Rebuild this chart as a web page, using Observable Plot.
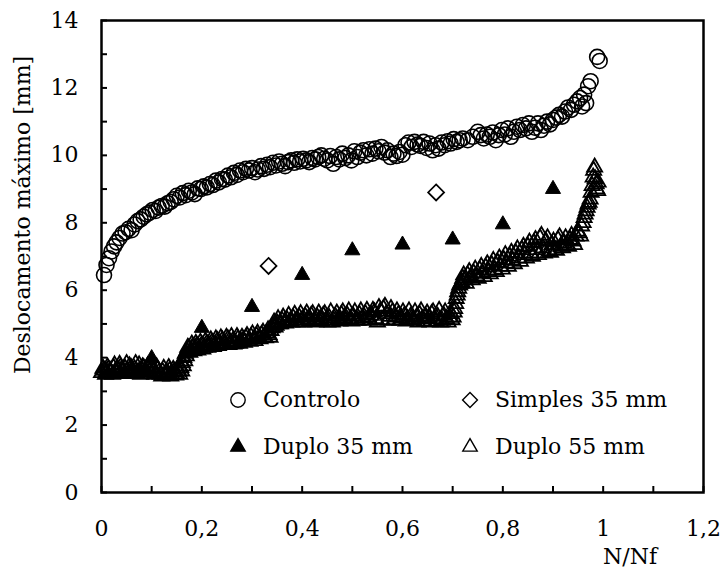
<!DOCTYPE html>
<html><head><meta charset="utf-8">
<script src="https://cdn.jsdelivr.net/npm/d3@7"></script>
<script src="https://cdn.jsdelivr.net/npm/@observablehq/plot@0.6"></script>
<style>
body{margin:0;background:#fff;}
#wrap{position:relative;width:722px;height:570px;font-family:"DejaVu Serif",serif;}
.leg{position:absolute;font-size:22px;color:#000;white-space:nowrap;line-height:22px;}
.leg svg{position:absolute;overflow:visible;}
</style></head><body><div id="wrap"></div>
<script>
const seriesNames = ["Controlo", "Simples 35 mm", "Duplo 35 mm", "Duplo 55 mm"];
const xTicks = [0, 0.1, 0.2, 0.3, 0.4, 0.5, 0.6, 0.7, 0.8, 0.9, 1.0, 1.1, 1.2];
const xLabels = [0, 0.2, 0.4, 0.6, 0.8, 1.0, 1.2];
const yTicks = [0, 1, 2, 3, 4, 5, 6, 7, 8, 9, 10, 11, 12, 13, 14];
const yLabels = [0, 2, 4, 6, 8, 10, 12, 14];
const xTitle = "N/Nf";
const yTitle = "Deslocamento máximo [mm]";

// [N/Nf, deslocamento]
const controlo = [
[0.005,6.45],[0.010,6.75],[0.015,6.95],[0.020,7.15],[0.025,7.30],[0.030,7.42],[0.036,7.55],[0.042,7.68],
[0.048,7.72],[0.054,7.82],[0.060,7.78],[0.066,7.95],[0.072,8.05],[0.078,8.10],[0.084,8.18],[0.090,8.25],
[0.096,8.30],[0.102,8.38],[0.108,8.35],[0.114,8.45],[0.120,8.50],[0.126,8.48],[0.132,8.58],[0.138,8.62],
[0.144,8.70],[0.150,8.80],[0.156,8.75],[0.162,8.88],[0.168,8.82],[0.174,8.95],[0.180,8.90],[0.186,8.85],
[0.192,9.02],[0.198,9.00],[0.204,9.08],[0.210,9.05],[0.216,9.15],[0.222,9.12],[0.228,9.25],[0.234,9.20],
[0.240,9.30],[0.246,9.28],[0.252,9.40],[0.258,9.35],[0.264,9.48],[0.270,9.42],[0.276,9.55],[0.282,9.50],
[0.288,9.60],[0.294,9.55],[0.300,9.62],[0.306,9.50],[0.312,9.58],[0.318,9.68],[0.324,9.60],[0.330,9.72],
[0.336,9.65],[0.342,9.78],[0.348,9.70],[0.354,9.82],[0.360,9.75],[0.366,9.68],[0.372,9.80],[0.378,9.85],
[0.384,9.78],[0.390,9.88],[0.396,9.82],[0.402,9.90],[0.408,9.85],[0.414,9.80],[0.420,9.92],[0.426,9.88],
[0.432,9.95],[0.438,10.00],[0.444,9.90],[0.450,9.85],[0.456,9.98],[0.462,9.75],[0.468,9.95],[0.474,9.88],
[0.480,10.05],[0.486,9.92],[0.492,10.00],[0.498,9.85],[0.504,10.12],[0.510,9.95],[0.516,10.08],[0.522,10.15],
[0.528,10.00],[0.534,10.18],[0.540,10.05],[0.546,10.20],[0.552,10.12],[0.558,10.25],[0.564,10.08],[0.570,10.15],
[0.576,9.95],[0.582,10.05],[0.588,9.98],[0.594,10.10],[0.600,10.02],[0.606,10.30],[0.612,10.38],[0.618,10.25],
[0.624,10.40],[0.630,10.32],[0.636,10.28],[0.642,10.40],[0.648,10.22],[0.654,10.35],[0.660,10.15],[0.666,10.30],
[0.672,10.20],[0.678,10.38],[0.684,10.30],[0.690,10.42],[0.696,10.35],[0.702,10.48],[0.708,10.40],[0.714,10.45],
[0.720,10.50],[0.730,10.45],[0.740,10.55],[0.750,10.70],[0.756,10.60],[0.762,10.50],[0.768,10.62],[0.774,10.55],
[0.780,10.68],[0.786,10.45],[0.792,10.60],[0.798,10.75],[0.804,10.62],[0.810,10.80],[0.816,10.55],[0.822,10.70],
[0.828,10.85],[0.834,10.75],[0.840,10.90],[0.846,10.80],[0.852,10.95],[0.858,10.70],[0.864,10.82],[0.870,10.95],
[0.876,10.75],[0.882,10.88],[0.888,11.00],[0.894,10.92],[0.900,11.05],[0.906,11.12],[0.912,11.20],[0.918,11.15],
[0.924,11.30],[0.930,11.42],[0.936,11.35],[0.942,11.50],[0.948,11.60],[0.954,11.70],[0.958,11.45],[0.962,11.80],
[0.966,11.55],[0.970,12.05],[0.975,12.20],[0.988,12.92],[0.993,12.80]
];
const simples35 = [[0.333,6.72],[0.667,8.90]];
const duplo35 = [[0.1,3.98],[0.2,4.88],[0.3,5.50],[0.4,6.45],[0.5,7.18],[0.6,7.35],[0.7,7.50],[0.8,7.95],[0.9,9.00]];
const duplo55 = [
[0.000,3.55],[0.005,3.62],[0.010,3.58],[0.014,3.66],[0.019,3.55],[0.024,3.70],[0.028,3.60],[0.033,3.64],
[0.038,3.72],[0.042,3.58],[0.047,3.68],[0.052,3.62],[0.056,3.75],[0.061,3.60],[0.066,3.66],[0.070,3.55],
[0.075,3.78],[0.080,3.62],[0.084,3.70],[0.089,3.58],[0.094,3.66],[0.098,3.52],[0.103,3.60],[0.108,3.55],
[0.112,3.65],[0.117,3.50],[0.122,3.58],[0.126,3.48],[0.131,3.55],[0.136,3.62],[0.140,3.50],[0.145,3.58],
[0.150,3.52],[0.154,3.60],[0.158,3.70],[0.161,3.85],[0.164,4.00],[0.167,4.12],[0.170,4.20],[0.174,4.28],
[0.178,4.22],[0.182,4.32],[0.186,4.25],[0.190,4.35],[0.195,4.28],[0.200,4.38],[0.205,4.30],[0.210,4.42],
[0.215,4.35],[0.220,4.45],[0.226,4.38],[0.231,4.50],[0.236,4.42],[0.241,4.52],[0.246,4.40],[0.252,4.55],
[0.257,4.45],[0.262,4.50],[0.267,4.42],[0.272,4.55],[0.278,4.48],[0.283,4.52],[0.288,4.58],[0.293,4.50],
[0.298,4.62],[0.304,4.55],[0.309,4.65],[0.314,4.58],[0.319,4.68],[0.324,4.62],[0.329,4.72],[0.334,4.68],
[0.338,4.80],[0.342,4.95],[0.346,4.90],[0.350,5.02],[0.355,5.00],[0.360,5.10],[0.365,5.05],[0.370,5.12],
[0.376,5.08],[0.382,5.18],[0.388,5.10],[0.394,5.20],[0.400,5.12],[0.406,5.22],[0.412,5.15],[0.418,5.25],
[0.424,5.10],[0.430,5.20],[0.436,5.15],[0.442,5.25],[0.448,5.12],[0.454,5.18],[0.460,5.05],[0.466,5.22],
[0.472,5.15],[0.478,5.28],[0.484,5.18],[0.490,5.25],[0.496,5.15],[0.502,5.22],[0.508,5.12],[0.514,5.28],
[0.520,5.18],[0.526,5.30],[0.532,5.20],[0.538,5.25],[0.544,5.35],[0.550,5.05],[0.556,5.38],[0.562,5.45],
[0.568,5.30],[0.574,5.22],[0.580,5.35],[0.586,5.20],[0.592,5.28],[0.598,5.18],[0.604,5.25],[0.610,5.15],
[0.616,5.22],[0.622,5.12],[0.628,5.20],[0.634,5.28],[0.640,5.15],[0.646,5.22],[0.652,5.18],[0.658,5.30],
[0.664,5.15],[0.670,5.22],[0.676,5.05],[0.682,5.25],[0.688,5.15],[0.694,5.20],[0.699,5.12],[0.703,5.35],
[0.706,5.60],[0.709,5.85],[0.712,6.05],[0.716,6.20],[0.720,6.35],[0.725,6.30],[0.730,6.45],[0.736,6.38],
[0.742,6.50],[0.748,6.42],[0.754,6.60],[0.760,6.50],[0.766,6.68],[0.772,6.55],[0.778,6.75],[0.784,6.60],
[0.790,6.82],[0.796,6.70],[0.802,6.90],[0.808,6.80],[0.814,7.00],[0.820,6.88],[0.826,7.10],[0.832,6.95],
[0.838,7.20],[0.844,7.05],[0.850,7.30],[0.856,7.10],[0.862,7.40],[0.868,7.20],[0.874,7.55],[0.880,7.25],
[0.886,7.45],[0.892,7.15],[0.898,7.35],[0.904,7.20],[0.910,7.50],[0.916,7.30],[0.922,7.40],[0.928,7.35],
[0.934,7.50],[0.940,7.45],[0.946,7.60],[0.952,7.70],[0.957,7.90],[0.962,8.15],[0.966,8.35],[0.970,8.55],
[0.974,8.70],[0.978,9.10],[0.981,9.55],[0.984,9.30],[0.987,9.00],[0.990,9.20],
[0.003,3.68],[0.008,3.50],[0.012,3.72],[0.017,3.62],[0.022,3.50],[0.026,3.78],[0.031,3.55],[0.036,3.80],
[0.040,3.65],[0.045,3.52],[0.050,3.82],[0.054,3.55],[0.059,3.70],[0.064,3.52],[0.068,3.82],[0.073,3.58],
[0.078,3.50],[0.082,3.72],[0.087,3.52],[0.092,3.75],[0.096,3.60],[0.101,3.70],[0.106,3.50],[0.110,3.72],
[0.115,3.58],[0.120,3.45],[0.124,3.68],[0.129,3.48],[0.134,3.70],[0.138,3.45],[0.143,3.65],[0.148,3.48],
[0.152,3.68],[0.156,3.50],[0.160,3.60],[0.163,3.75],[0.166,3.90],[0.169,4.05],[0.172,4.30],[0.176,4.15],
[0.180,4.40],[0.184,4.20],[0.188,4.42],[0.192,4.22],[0.197,4.45],[0.202,4.25],[0.207,4.48],[0.212,4.30],
[0.218,4.52],[0.223,4.32],[0.228,4.55],[0.233,4.35],[0.238,4.58],[0.244,4.38],[0.249,4.60],[0.254,4.38],
[0.259,4.62],[0.264,4.40],[0.270,4.62],[0.275,4.42],[0.280,4.60],[0.285,4.45],[0.290,4.65],[0.296,4.48],
[0.301,4.70],[0.306,4.50],[0.311,4.72],[0.316,4.55],[0.322,4.75],[0.327,4.58],[0.332,4.82],[0.336,4.60],
[0.340,4.88],[0.344,5.05],[0.348,4.95],[0.352,5.15],[0.357,5.00],[0.362,5.20],[0.367,5.02],[0.373,5.25],
[0.379,5.05],[0.385,5.28],[0.391,5.05],[0.397,5.30],[0.403,5.05],[0.409,5.32],[0.415,5.08],[0.421,5.30],
[0.427,5.05],[0.433,5.32],[0.439,5.08],[0.445,5.30],[0.451,5.05],[0.457,5.35],[0.463,5.10],[0.469,5.32],
[0.475,5.08],[0.481,5.35],[0.487,5.10],[0.493,5.38],[0.499,5.08],[0.505,5.35],[0.511,5.10],[0.517,5.38],
[0.523,5.12],[0.529,5.40],[0.535,5.10],[0.541,5.40],[0.547,5.15],[0.553,5.48],[0.559,5.12],[0.565,5.52],
[0.571,5.10],[0.577,5.45],[0.583,5.12],[0.589,5.38],[0.595,5.10],[0.601,5.35],[0.607,5.08],[0.613,5.38],
[0.619,5.10],[0.625,5.35],[0.631,5.05],[0.637,5.38],[0.643,5.08],[0.649,5.32],[0.655,5.05],[0.661,5.35],
[0.667,5.08],[0.673,5.40],[0.679,5.10],[0.685,5.35],[0.691,5.05],[0.697,5.30],[0.701,5.20],[0.704,5.45],
[0.707,5.75],[0.710,5.95],[0.714,6.15],[0.718,6.25],[0.722,6.45],[0.727,6.20],[0.733,6.55],[0.739,6.30],
[0.745,6.62],[0.751,6.35],[0.757,6.70],[0.763,6.40],[0.769,6.78],[0.775,6.48],[0.781,6.88],[0.787,6.55],
[0.793,6.95],[0.799,6.62],[0.805,7.05],[0.811,6.70],[0.817,7.12],[0.823,6.78],[0.829,7.22],[0.835,6.85],
[0.841,7.30],[0.847,6.95],[0.853,7.42],[0.859,7.00],[0.865,7.50],[0.871,7.05],[0.877,7.62],[0.883,7.10],
[0.889,7.55],[0.895,7.12],[0.901,7.45],[0.907,7.18],[0.913,7.58],[0.919,7.25],[0.925,7.55],[0.931,7.30],
[0.937,7.62],[0.943,7.35],[0.949,7.75],[0.955,7.60],[0.960,8.00],[0.964,8.25],[0.968,8.45],[0.972,8.60],
[0.976,8.90],[0.980,9.35],[0.983,9.65],[0.986,9.15],[0.989,8.95]
];

const fmt = d => String(+d.toFixed(1)).replace(".", ",");
const FONT = "DejaVu Serif";

const chart = Plot.plot({
  width: 722, height: 570,
  marginLeft: 101, marginRight: 19, marginTop: 20, marginBottom: 78,
  style: {fontFamily: FONT, fontSize: "22px", color: "#000", background: "#fff"},
  x: {domain: [0, 1.2]},
  y: {domain: [0, 14]},
  marks: [
    Plot.dot(controlo, {x: d => d[0], y: d => d[1], r: 7.5, symbol: "circle", stroke: "#000", strokeWidth: 1.6, fill: "none"}),
    Plot.dot(simples35, {x: d => d[0], y: d => d[1], r: 7.2, symbol: "diamond2", stroke: "#000", strokeWidth: 1.7, fill: "none"}),
    Plot.dot(duplo55, {x: d => d[0], y: d => d[1], r: 5.6, symbol: "triangle", stroke: "#000", strokeWidth: 1.8, fill: "none"}),
    Plot.dot(duplo35, {x: d => d[0], y: d => d[1], r: 5.6, symbol: "triangle", stroke: "#000", strokeWidth: 1, fill: "#000"}),
    Plot.axisX({ticks: xTicks, tickSize: 6, dy: -6, strokeWidth: 2, tickFormat: () => "", label: null}),
    Plot.axisX({ticks: xLabels, tickSize: 0, tickPadding: 28, tickFormat: fmt, label: null, fontSize: 22}),
    Plot.axisY({ticks: yTicks, tickSize: 6, dx: 6, strokeWidth: 2, tickFormat: () => "", label: null}),
    Plot.axisY({ticks: yLabels, tickSize: 0, tickPadding: 23, tickFormat: fmt, label: null, fontSize: 22}),
    Plot.frame({stroke: "#000", strokeWidth: 2.5})
  ]
});
const wrap = document.getElementById("wrap");
wrap.appendChild(chart);

const svg = d3.select(chart);
svg.append("text").attr("transform", "translate(22,215) rotate(-90)")
  .attr("text-anchor", "middle").attr("dominant-baseline", "central")
  .attr("font-family", FONT).attr("font-size", 22).attr("fill", "#000").text(yTitle);
svg.append("text").attr("x", 630).attr("y", 564).attr("text-anchor", "middle")
  .attr("font-family", FONT).attr("font-size", 22).attr("fill", "#000").text(xTitle);

// legend
const legendItems = [
  {name: seriesNames[0], sym: d3.symbolCircle, size: Math.PI * 7.2 * 7.2, fill: "none", left: 228, top: 389},
  {name: seriesNames[1], sym: d3.symbolDiamond2, size: 140, fill: "none", left: 460, top: 389},
  {name: seriesNames[2], sym: d3.symbolTriangle, size: 90, fill: "#000", left: 228, top: 436},
  {name: seriesNames[3], sym: d3.symbolTriangle, size: 90, fill: "none", left: 460, top: 436}
];
for (const it of legendItems) {
  const div = document.createElement("div");
  div.className = "leg";
  div.style.left = it.left + "px";
  div.style.top = it.top + "px";
  const path = d3.symbol(it.sym, it.size)();
  div.innerHTML = `<svg width="20" height="20" style="left:0;top:1px"><path transform="translate(10,10)" d="${path}" fill="${it.fill}" stroke="#000" stroke-width="1.4"/></svg><span style="position:absolute;left:35px;top:0">${it.name}</span>`;
  wrap.appendChild(div);
}
</script></body></html>
